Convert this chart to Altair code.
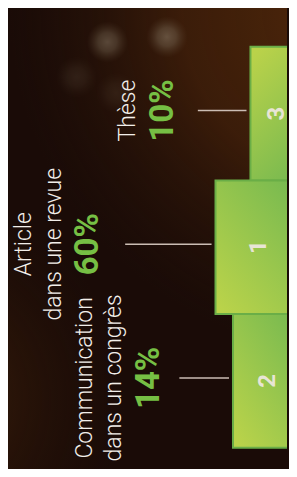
import altair as alt
import pandas as pd

# ---- data (top to bottom as drawn) ----
ranks = ["3", "1", "2"]
labels = [["Thèse"], ["Article", "dans une revue"], ["Communication", "dans un congrès"]]
percents = ["10%", "60%", "14%"]
podium = [3, 5, 4]          # podium step height (units)
slots = [0, 1, 2]           # vertical slot of each step

# decorative bokeh blobs (units of the two scales) and their opacity
bokeh_u = [11.19, 7.78, 12.95, 10.68]
bokeh_s = [-0.035, -0.073, 0.227, 0.346]
bokeh_a = [0.5, 0.55, 0.16, 0.13]

# ---- layout ----
W, H = 281, 461
PX = 1 / 17.6                       # podium units per pixel
X_DOMAIN = [0.909, 16.875]
Y_DOMAIN = [-0.2895, 3.159]
line_gap = 4
line_len = [49, 87, 50]
pct_gap = [25, 27, 21]
label_gap = 38
line_h = 29.5

rows = []
for i in range(3):
    lvl = podium[i]
    end_u = lvl + line_gap * PX
    start_u = end_u + line_len[i] * PX
    pct_u = start_u + pct_gap[i] * PX
    first_u = pct_u + (label_gap + (len(labels[i]) - 1) * line_h) * PX
    rows.append(dict(rank=ranks[i], label=labels[i], pct=percents[i], level=lvl,
                     zero=0, s0=slots[i], s1=slots[i] + 1, sc=slots[i] + 0.5,
                     num_u=lvl / 2, end_u=end_u, start_u=start_u,
                     pct_u=pct_u, first_u=first_u,
                     grp="a" if ranks[i] == "3" else "b"))
df = pd.DataFrame(rows)
bk = pd.DataFrame(dict(u=bokeh_u, s=bokeh_s, a=bokeh_a))

xs = alt.Scale(domain=X_DOMAIN, reverse=True, nice=False, zero=False)
ys = alt.Scale(domain=Y_DOMAIN, reverse=True, nice=False, zero=False)

FONT = "Roboto"

glow_tr = {"gradient": "radial", "x1": 0.95, "y1": 0.0, "r1": 0.0,
           "x2": 0.95, "y2": 0.0, "r2": 0.75,
           "stops": [{"offset": 0, "color": "rgba(80,40,10,1)"},
                     {"offset": 0.5, "color": "rgba(70,34,10,0.75)"},
                     {"offset": 1, "color": "rgba(40,20,8,0)"}]}
glow_bl = {"gradient": "radial", "x1": 0.0, "y1": 0.85, "r1": 0.0,
           "x2": 0.0, "y2": 0.85, "r2": 0.45,
           "stops": [{"offset": 0, "color": "rgba(70,36,10,0.9)"},
                     {"offset": 1, "color": "rgba(40,20,8,0)"}]}

bgdf = pd.DataFrame({"k": [0]})
bg1 = alt.Chart(bgdf).mark_rect(color=glow_tr).encode(
    x=alt.value(0), x2=alt.value("width"), y=alt.value(0), y2=alt.value("height"))
bg2 = alt.Chart(bgdf).mark_rect(color=glow_bl).encode(
    x=alt.value(0), x2=alt.value("width"), y=alt.value(0), y2=alt.value("height"))

bokeh = alt.Chart(bk).mark_point(
    filled=True, shape="circle", size=1700,
    color={"gradient": "radial", "x1": 0.5, "y1": 0.5, "r1": 0, "x2": 0.5, "y2": 0.5, "r2": 0.5,
           "stops": [{"offset": 0, "color": "rgba(140,125,105,1)"},
                     {"offset": 0.45, "color": "rgba(120,105,85,0.8)"},
                     {"offset": 1, "color": "rgba(90,70,50,0)"}]}
).encode(
    x=alt.X("u:Q", scale=xs, axis=None),
    y=alt.Y("s:Q", scale=ys, axis=None),
    opacity=alt.Opacity("a:Q", scale=None, legend=None),
)

grad_b = {"gradient": "linear", "x1": 0.9, "y1": 0, "x2": 0.1, "y2": 1,
          "stops": [{"offset": 0, "color": "#76b950"}, {"offset": 1, "color": "#bad34a"}]}
grad_a = {"gradient": "linear", "x1": 0.2, "y1": 0, "x2": 0.6, "y2": 1,
          "stops": [{"offset": 0, "color": "#bad24a"}, {"offset": 1, "color": "#7dbb4f"}]}

def bars(grp, grad):
    return alt.Chart(df).transform_filter(alt.datum.grp == grp).mark_rect(
        color=grad, stroke="#6aae47", strokeWidth=2, clip=True
    ).encode(
        x=alt.X("level:Q", scale=xs, axis=None), x2="zero:Q",
        y=alt.Y("s0:Q", scale=ys, axis=None), y2="s1:Q",
    )

rules = alt.Chart(df).mark_rule(color="#cbbdb4", strokeWidth=1.5, yOffset=-3).encode(
    x=alt.X("end_u:Q", scale=xs, axis=None), x2="start_u:Q",
    y=alt.Y("sc:Q", scale=ys, axis=None),
)

nums = alt.Chart(df).mark_text(font=FONT, fontSize=24, fontWeight="bold", color="#e8e5d5",
                               angle=270, align="center", baseline="middle").encode(
    x=alt.X("num_u:Q", scale=xs, axis=None), y=alt.Y("sc:Q", scale=ys, axis=None), text="rank:N")

lbls = alt.Chart(df).mark_text(font=FONT, fontSize=23, fontWeight=300, color="#f2eeea", angle=270,
                               align="center", baseline="alphabetic", lineHeight=line_h,
                               yOffset=-3).encode(
    x=alt.X("first_u:Q", scale=xs, axis=None), y=alt.Y("sc:Q", scale=ys, axis=None), text="label")

pcts = alt.Chart(df).mark_text(font=FONT, fontSize=33, fontWeight="bold", color="#76bf44",
                               angle=270, align="center", baseline="alphabetic",
                               yOffset=-3).encode(
    x=alt.X("pct_u:Q", scale=xs, axis=None), y=alt.Y("sc:Q", scale=ys, axis=None), text="pct:N")

chart = alt.layer(bg1, bg2, bokeh, bars("a", grad_a), bars("b", grad_b), rules, nums, lbls, pcts).properties(
    width=W, height=H, padding=0, background="#1a0b07",
    autosize=alt.AutoSizeParams(type="fit", contains="padding"),
).configure_view(stroke=None)

chart.save("out.html", embed_options={"renderer": "svg", "actions": False})
